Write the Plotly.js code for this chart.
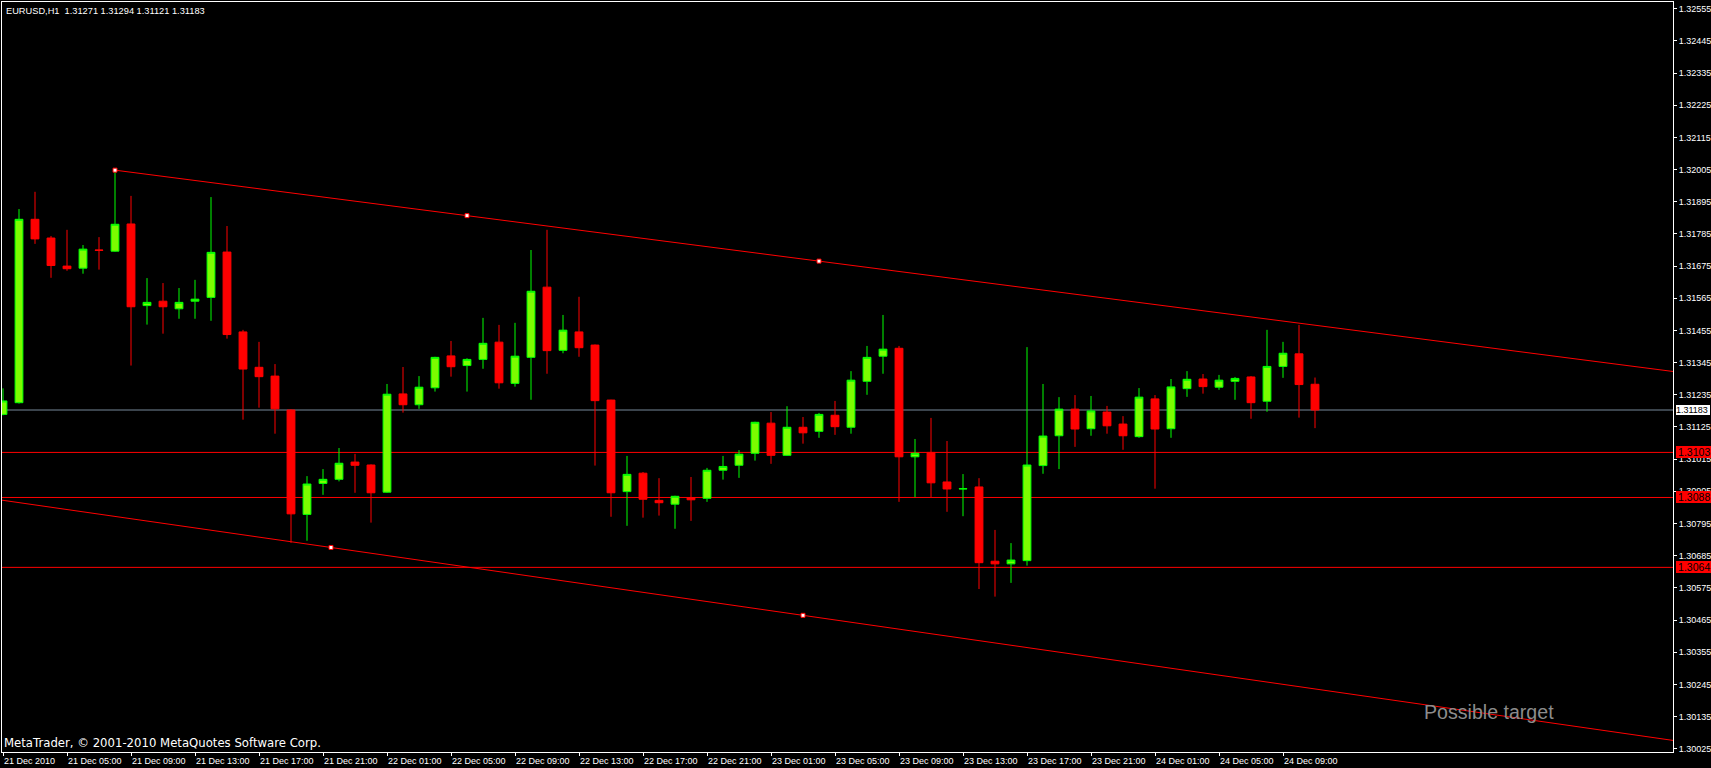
<!DOCTYPE html>
<html>
<head>
<meta charset="utf-8">
<script src="https://cdn.plot.ly/plotly-3.0.1.min.js"></script>
<style>
html,body{margin:0;padding:0;background:#000;overflow:hidden;}
#chart{width:1711px;height:768px;}
</style>
</head>
<body>
<div id="chart"></div>
<script>
// ---- data (hourly EURUSD bars, index 0 = 21 Dec 2010 00:00) ----
const symbolName = "EURUSD,H1";
const barIndex = [];
const opens  = [1.31168,1.31208,1.31835,1.31771,1.31675,1.31668,1.31730,1.31726,1.31819,1.31540,
                1.31555,1.31529,1.31555,1.31568,1.31723,1.31450,1.31329,1.31299,1.31183,1.30826,
                1.30932,1.30946,1.31005,1.30995,1.30902,1.31238,1.31201,1.31259,1.31368,1.31335,
                1.31356,1.31415,1.31274,1.31363,1.31603,1.31387,1.31450,1.31405,1.31217,1.30904,
                1.30967,1.30874,1.30861,1.30883,1.30881,1.30977,1.30994,1.31035,1.31138,1.31028,
                1.31124,1.31110,1.31165,1.31124,1.31281,1.31367,1.31394,1.31023,1.31038,1.30937,
                1.30913,1.30920,1.30666,1.30657,1.30668,1.30993,1.31095,1.31186,1.31119,1.31176,
                1.31135,1.31092,1.31221,1.31119,1.31256,1.31289,1.31261,1.31281,1.31296,1.31213,
                1.31332,1.31375,1.31271];
const highs  = [1.31257,1.31870,1.31929,1.31778,1.31799,1.31747,1.31774,1.32003,1.31915,1.31634,
                1.31617,1.31600,1.31628,1.31911,1.31812,1.31457,1.31416,1.31340,1.31185,1.30957,
                1.30981,1.31053,1.31033,1.30997,1.31272,1.31330,1.31299,1.31365,1.31419,1.31360,
                1.31498,1.31474,1.31481,1.31730,1.31799,1.31508,1.31570,1.31407,1.31218,1.31026,
                1.30971,1.30950,1.30890,1.30954,1.30985,1.31026,1.31046,1.31143,1.31176,1.31196,
                1.31159,1.31173,1.31214,1.31316,1.31402,1.31508,1.31402,1.31084,1.31156,1.31077,
                1.30964,1.30950,1.30773,1.30728,1.31398,1.31272,1.31227,1.31234,1.31231,1.31197,
                1.31162,1.31258,1.31234,1.31289,1.31316,1.31306,1.31303,1.31296,1.31299,1.31457,
                1.31416,1.31474,1.31294];
const lows   = [1.31165,1.31205,1.31751,1.31635,1.31659,1.31649,1.31663,1.31724,1.31335,1.31475,
                1.31444,1.31495,1.31495,1.31488,1.31427,1.31150,1.31191,1.31102,1.30729,1.30736,
                1.30893,1.30939,1.30900,1.30798,1.30900,1.31174,1.31187,1.31246,1.31297,1.31246,
                1.31324,1.31256,1.31263,1.31218,1.31307,1.31377,1.31365,1.30993,1.30818,1.30787,
                1.30815,1.30822,1.30777,1.30804,1.30869,1.30945,1.30951,1.31010,1.30999,1.31026,
                1.31068,1.31088,1.31098,1.31102,1.31235,1.31307,1.30869,1.30885,1.30885,1.30835,
                1.30820,1.30571,1.30545,1.30592,1.30651,1.30965,1.30981,1.31057,1.31095,1.31102,
                1.31047,1.31088,1.30914,1.31088,1.31228,1.31239,1.31252,1.31218,1.31153,1.31177,
                1.31293,1.31157,1.31121];
const closes = [1.31214,1.31835,1.31768,1.31677,1.31666,1.31733,1.31729,1.31818,1.31536,1.31551,
                1.31536,1.31551,1.31562,1.31722,1.31441,1.31323,1.31297,1.31187,1.30828,1.30930,
                1.30946,1.31001,1.30994,1.30900,1.31237,1.31201,1.31261,1.31363,1.31331,1.31356,
                1.31411,1.31276,1.31367,1.31589,1.31386,1.31456,1.31396,1.31215,1.30900,1.30963,
                1.30878,1.30866,1.30888,1.30876,1.30977,1.30990,1.31032,1.31141,1.31028,1.31124,
                1.31105,1.31168,1.31126,1.31285,1.31363,1.31391,1.31023,1.31035,1.30934,1.30913,
                1.30914,1.30661,1.30657,1.30670,1.30995,1.31094,1.31186,1.31118,1.31180,1.31129,
                1.31095,1.31227,1.31118,1.31262,1.31288,1.31263,1.31285,1.31291,1.31208,1.31332,
                1.31377,1.31270,1.31183];
for (let i = 0; i < opens.length; i++) barIndex.push(i);

const tickIndex  = [0,4,8,12,16,20,24,28,32,36,40,44,48,52,56,60,64,68,72,76,80];
const tickLabels = ["21 Dec 2010","21 Dec 05:00","21 Dec 09:00","21 Dec 13:00","21 Dec 17:00","21 Dec 21:00",
                    "22 Dec 01:00","22 Dec 05:00","22 Dec 09:00","22 Dec 13:00","22 Dec 17:00","22 Dec 21:00",
                    "23 Dec 01:00","23 Dec 05:00","23 Dec 09:00","23 Dec 13:00","23 Dec 17:00","23 Dec 21:00",
                    "24 Dec 01:00","24 Dec 05:00","24 Dec 09:00"];
const priceTicks = [1.32555,1.32445,1.32335,1.32225,1.32115,1.32005,1.31895,1.31785,1.31675,1.31565,
                    1.31455,1.31345,1.31235,1.31125,1.31015,1.30905,1.30795,1.30685,1.30575,1.30465,
                    1.30355,1.30245,1.30135,1.30025];

// horizontal levels
const levelValues = [1.31038, 1.30884, 1.30645];
const levelLabels = ["1.3103", "1.3088", "1.3064"];

// trend line anchors (bar index, price)
const upperTrendX = [7, 51];
const upperTrendY = [1.32003, 1.31692];
const lowerTrendX = [-9, 50];
const lowerTrendY = [1.30945, 1.30481];

const targetText = "Possible target";
const targetX = 88.7, targetY = 1.30152;
const copyrightText = "MetaTrader, \u00A9 2001-2010 MetaQuotes Software Corp.";

// ---- layout helpers ----
const xRange = [-0.0625, 104.375];
const yRange = [1.300138, 1.325779];
const lastI = closes.length - 1;
const lastClose = closes[lastI];
const headerText = symbolName + "\u00A0\u00A0" +
  [opens[lastI], highs[lastI], lows[lastI], closes[lastI]].map(v => v.toFixed(5)).join(" ");

function lineAt(xs, ys, x) { return ys[0] + (ys[1] - ys[0]) * (x - xs[0]) / (xs[1] - xs[0]); }

const shapes = [];
shapes.push({type:'line', xref:'paper', x0:0, x1:1, yref:'y', y0:lastClose, y1:lastClose,
             line:{color:'#778899', width:1}, layer:'below'});
levelValues.forEach(v => shapes.push({type:'line', xref:'paper', x0:0, x1:1, yref:'y', y0:v, y1:v,
             line:{color:'#FF0000', width:1}, layer:'below'}));
[[upperTrendX, upperTrendY], [lowerTrendX, lowerTrendY]].forEach(([xs, ys]) => {
  shapes.push({type:'line', xref:'x', yref:'y', x0:xs[0], y0:ys[0], x1:xRange[1], y1:lineAt(xs, ys, xRange[1]),
               line:{color:'#FF0000', width:1}, layer:'below'});
});

function anchorPts(xs, ys) {
  const mx = (xs[0] + xs[1]) / 2;
  return {x:[xs[0], mx, xs[1]], y:[ys[0], lineAt(xs, ys, mx), ys[1]]};
}
const upPts = anchorPts(upperTrendX, upperTrendY);
const loPts = anchorPts(lowerTrendX, lowerTrendY);

const baseFont = {family:'"Liberation Sans", Arial, sans-serif', size:9, color:'#FFFFFF'};

const traces = [
  {
    type:'candlestick', x:barIndex, open:opens, high:highs, low:lows, close:closes,
    increasing:{line:{color:'#00FF00', width:1}, fillcolor:'#7CFC00'},
    decreasing:{line:{color:'#FF0000', width:1}, fillcolor:'#FF0000'},
    whiskerwidth:0, hoverinfo:'skip', showlegend:false
  },
  {
    type:'scatter', mode:'markers', x:upPts.x.concat(loPts.x), y:upPts.y.concat(loPts.y),
    marker:{symbol:'square', size:4, color:'#FFFFFF', line:{color:'#FF0000', width:1}},
    hoverinfo:'skip', showlegend:false
  }
];

const annotations = [
  {xref:'paper', yref:'paper', x:0, y:1, xanchor:'left', yanchor:'top', xshift:2, yshift:-2,
   text:headerText, showarrow:false, font:{family:baseFont.family, size:9.25, color:'#FFFFFF'}},
  {xref:'paper', yref:'paper', x:0, y:0, xanchor:'left', yanchor:'bottom', xshift:0, yshift:0,
   text:copyrightText, showarrow:false, font:{family:'"DejaVu Sans", sans-serif', size:11.7, color:'#FFFFFF'}},
  {xref:'x', yref:'y', x:targetX, y:targetY, xanchor:'left', yanchor:'middle',
   text:targetText, showarrow:false, font:{family:baseFont.family, size:19.6, color:'#8C8C8C'}},
  {xref:'paper', yref:'y', x:1, y:lastClose, xanchor:'left', yanchor:'middle', xshift:3,
   text:lastClose.toFixed(5) + "\u00A0", showarrow:false, bgcolor:'#FFFFFF', borderpad:0, borderwidth:0,
   font:{family:baseFont.family, size:9, color:'#000000'}}
];
levelValues.forEach((v, i) => annotations.push({
   xref:'paper', yref:'y', x:1, y:v, xanchor:'left', yanchor:'middle', xshift:3,
   text:"\u2009" + levelLabels[i] + "\u00A0\u00A0", showarrow:false, bgcolor:'#FF0000', borderpad:0, borderwidth:0,
   font:{family:baseFont.family, size:10.5, color:'#000000'}}));

const layout = {
  width:1711, height:768,
  margin:{l:2, r:38, t:2, b:16, pad:0},
  paper_bgcolor:'#000000', plot_bgcolor:'#000000',
  showlegend:false, dragmode:false,
  xaxis:{range:xRange, type:'linear', showgrid:false, zeroline:false, showline:true, mirror:true,
         linecolor:'#FFFFFF', linewidth:1, ticks:'outside', ticklen:3, tickwidth:1, tickcolor:'#FFFFFF',
         tickmode:'array', tickvals:tickIndex, ticktext:tickLabels, tickfont:baseFont,
         ticklabelposition:'outside right', rangeslider:{visible:false}, fixedrange:true},
  yaxis:{range:yRange, side:'right', showgrid:false, zeroline:false, showline:true, mirror:true,
         linecolor:'#FFFFFF', linewidth:1, ticks:'outside', ticklen:3, tickwidth:1, tickcolor:'#FFFFFF',
         tickmode:'array', tickvals:priceTicks, ticktext:priceTicks.map(v => v.toFixed(5)), tickfont:baseFont,
         fixedrange:true},
  shapes:shapes,
  annotations:annotations
};

Plotly.newPlot('chart', traces, layout, {staticPlot:true, displayModeBar:false});
</script>
</body>
</html>
